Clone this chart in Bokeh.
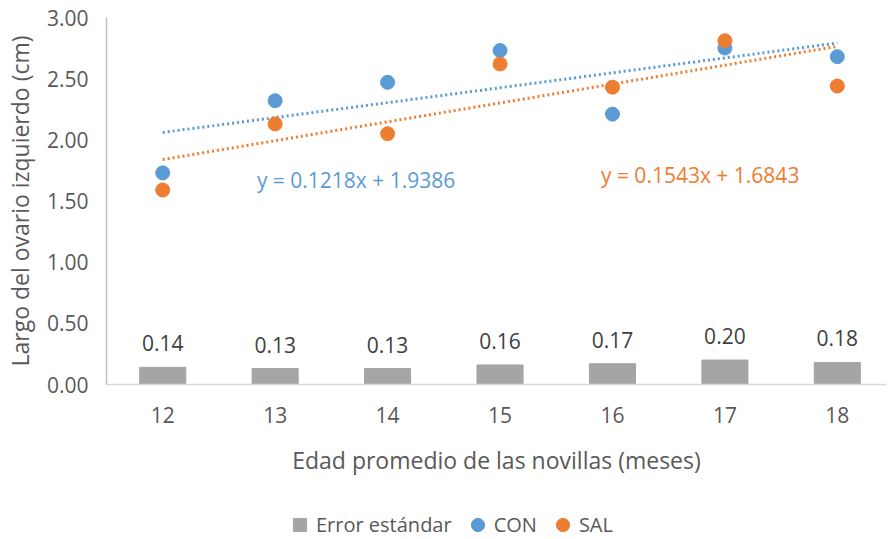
from bokeh.plotting import figure
from bokeh.layouts import column
from bokeh.models import (ColumnDataSource, Legend, LegendItem, FixedTicker,
                          NumeralTickFormatter, Range1d, Label)
from bokeh.core.properties import value
from bokeh.embed import file_html
from bokeh.resources import INLINE

# ---- data ----
months = [12, 13, 14, 15, 16, 17, 18]
con = [1.73, 2.32, 2.47, 2.73, 2.21, 2.75, 2.68]
sal = [1.59, 2.13, 2.05, 2.62, 2.43, 2.81, 2.44]
std_err = [0.14, 0.13, 0.13, 0.16, 0.17, 0.20, 0.18]
trend_slope = [0.1218, 0.1543]        # CON, SAL
trend_intercept = [1.9386, 1.6843]
y_ticks = [0.0, 0.5, 1.0, 1.5, 2.0, 2.5, 3.0]
series_names = ["Error estándar", "CON", "SAL"]

FONT = "Open Sans"
BLUE = "#5b9bd5"
ORANGE = "#ed7d31"
GRAY = "#a5a5a5"
TXT = "#595959"

src = ColumnDataSource(dict(
    x=months, con=con, sal=sal, err=std_err,
    lab=["%.2f" % v for v in std_err],
))

p = figure(width=886, height=492, output_backend="svg", toolbar_location=None,
           x_range=Range1d(11.5, 11.5 + 786 / 113.3), y_range=Range1d(0, 3),
           min_border_left=100, min_border_top=17, min_border_right=0,
           min_border_bottom=108)
p.outline_line_color = None
p.grid.grid_line_color = None

bars = p.vbar(x="x", top="err", width=0.41, source=src, color=GRAY)
p.text(x="x", y="err", text="lab", source=src, text_align="center",
       text_baseline="bottom", y_offset=-16, text_font=value(FONT),
       text_font_size="21px", text_color="#404040")

# trendlines (linear fits with x = 1..7)
idx = list(range(1, len(months) + 1))
for s, b, c in zip(trend_slope, trend_intercept, [BLUE, ORANGE]):
    ys = [s * i + b for i in (idx[0], idx[-1])]
    p.line([months[0], months[-1]], ys, line_color=c, line_width=3,
           line_dash="2 3")

p.scatter(x="x", y="con", source=src, size=14, color=BLUE)
p.scatter(x="x", y="sal", source=src, size=14, color=ORANGE)

# equation labels
p.add_layout(Label(x=13.72, y=1.672, text="y = %.4fx + %.4f" % (trend_slope[0], trend_intercept[0]),
                   text_font=FONT, text_font_size="21px", text_color=BLUE,
                   text_align="center", text_baseline="middle"))
p.add_layout(Label(x=16.78, y=1.713, text="y = %.4fx + %.4f" % (trend_slope[1], trend_intercept[1]),
                   text_font=FONT, text_font_size="21px", text_color=ORANGE,
                   text_align="center", text_baseline="middle"))

# axes
xa = p.xaxis[0]
xa.ticker = FixedTicker(ticks=months)
xa.axis_label = "Edad promedio de las novillas (meses)"
xa.major_label_standoff = 22
xa.axis_label_standoff = 18
xa.axis_line_color = "#d9d9d9"

ya = p.yaxis[0]
ya.ticker = FixedTicker(ticks=y_ticks)
ya.formatter = NumeralTickFormatter(format="0.00")
ya.axis_label = "Largo del ovario izquierdo (cm)"
ya.major_label_standoff = 18
ya.axis_label_standoff = 8
ya.axis_line_color = "#bfbfbf"

for ax in (xa, ya):
    ax.major_tick_line_color = None
    ax.minor_tick_line_color = None
    ax.major_tick_out = 0
    ax.minor_tick_out = 0
    ax.axis_line_width = 1.5
    ax.major_label_text_font = FONT
    ax.major_label_text_font_size = "21px"
    ax.major_label_text_color = TXT
    ax.axis_label_text_font = FONT
    ax.axis_label_text_font_size = "23px"
    ax.axis_label_text_font_style = "normal"
    ax.axis_label_text_color = TXT

# ---- legend strip below the chart (frame aligned with the chart's frame) ----
lg = figure(width=886, height=49, output_backend="svg", toolbar_location=None,
            x_axis_type=None, y_axis_type=None, x_range=Range1d(0, 1),
            y_range=Range1d(0, 1), min_border=0)
lg.outline_line_color = None
lg.grid.grid_line_color = None
nan = float("nan")
g_err = lg.scatter(x=[nan], y=[nan], marker="square", size=13, color=GRAY)
g_con = lg.scatter(x=[nan], y=[nan], marker="circle", size=13, color=BLUE)
g_sal = lg.scatter(x=[nan], y=[nan], marker="circle", size=13, color=ORANGE)
legend = Legend(items=[LegendItem(label=n, renderers=[r])
                       for n, r in zip(series_names, [g_err, g_con, g_sal])],
                orientation="horizontal", location=(177, 0))
legend.label_text_font = FONT
legend.label_text_font_size = "20px"
legend.label_text_color = TXT
legend.glyph_width = 33
legend.glyph_height = 33
legend.label_standoff = 0
legend.spacing = 9
legend.padding = 0
legend.margin = 0
legend.border_line_color = None
legend.background_fill_alpha = 0
lg.add_layout(legend)

layout = column(p, lg, spacing=0)
open("out.html", "w").write(file_html(layout, INLINE))
